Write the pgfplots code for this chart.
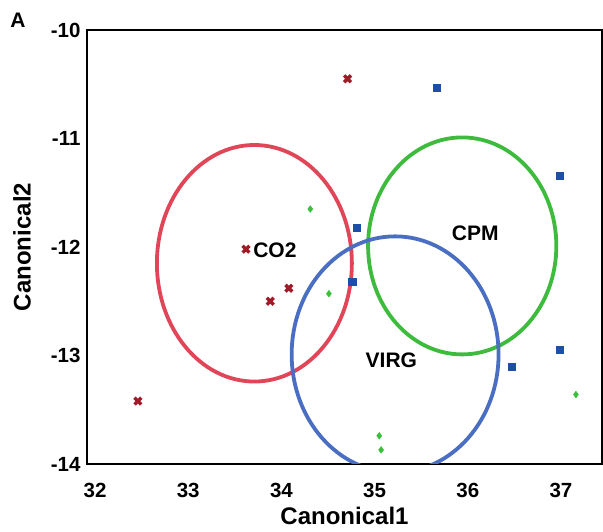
\documentclass[border=0pt]{standalone}
\usepackage{pgfplots}
\pgfplotsset{compat=1.18}
\usepackage{fontspec}
\setmainfont{Liberation Sans}
\definecolor{ellred}{HTML}{E04558}
\definecolor{ellgreen}{HTML}{3DBB3D}
\definecolor{ellblue}{HTML}{4A6EC2}
\definecolor{mkred}{HTML}{A21A28}
\definecolor{mkblue}{HTML}{1E4FA6}
\definecolor{mkgreen}{HTML}{3CC03C}
\begin{document}
\begin{tikzpicture}
\begin{axis}[
  scale only axis,
  width=515pt, height=434pt,
  xmin=31.914, xmax=37.44,
  ymin=-14, ymax=-10,
  xtick={32,33,34,35,36,37},
  ytick={-14,-13,-12,-11,-10},
  major tick length=0pt,
  axis line style={line width=1.6pt, black},
  /pgf/number format/assume math mode=true,
  tick label style={font=\fontsize{20.5}{20.5}\selectfont\bfseries},
  xticklabel style={yshift=-16pt},
  yticklabel style={xshift=-3pt},
  xlabel={Canonical1}, ylabel={Canonical2},
  label style={font=\fontsize{24}{24}\selectfont\bfseries},
  xlabel style={at={(rel axis cs:0.5,0)}, anchor=center, yshift=-52pt},
  ylabel style={at={(axis description cs:-0.1262,0.5)}, anchor=center},
  clip=true,
]
\coordinate (ll) at (rel axis cs:0,0);
\coordinate (ur) at (rel axis cs:1,1);
% ellipses
\draw[ellred, line width=3.8pt] (axis cs:33.71,-12.15) ellipse [x radius=1.046, y radius=1.09];
\draw[ellgreen, line width=3.8pt] (axis cs:35.94,-11.99) ellipse [x radius=1.01, y radius=1.0];
\draw[ellblue, line width=3.8pt] (axis cs:35.22,-12.99) ellipse [x radius=1.11, y radius=1.088];
% points
\addplot[only marks, mark=x, mark size=4.8pt, mkred, line width=3.4pt] coordinates {
(32.46,-13.42) (34.71,-10.45) (33.62,-12.02) (34.08,-12.38) (33.88,-12.50)};
\addplot[only marks, mark=square*, mark size=3.6pt, mkblue] coordinates {
(35.67,-10.53) (36.99,-11.34) (34.81,-11.82) (34.76,-12.32) (36.99,-12.95) (36.47,-13.10)};
\addplot[only marks, mark=diamond*, mark size=3.4pt, mkgreen] coordinates {
(34.31,-11.65) (34.51,-12.43) (35.05,-13.74) (35.07,-13.87) (37.16,-13.36)};
\node[font=\fontsize{21}{21}\selectfont\bfseries] at (axis cs:33.93,-12.03) {CO2};
\node[font=\fontsize{21}{21}\selectfont\bfseries] at (axis cs:36.08,-11.87) {CPM};
\node[font=\fontsize{21}{21}\selectfont\bfseries] at (axis cs:35.18,-13.04) {VIRG};
\end{axis}
\node[font=\fontsize{21}{21}\selectfont\bfseries] at ([shift={(-69pt,10pt)}]ll |- ur) {A};
\pgfresetboundingbox
\path ([shift={(-87pt,-68pt)}]ll) rectangle ([shift={(1pt,30pt)}]ur);
\end{tikzpicture}
\end{document}
